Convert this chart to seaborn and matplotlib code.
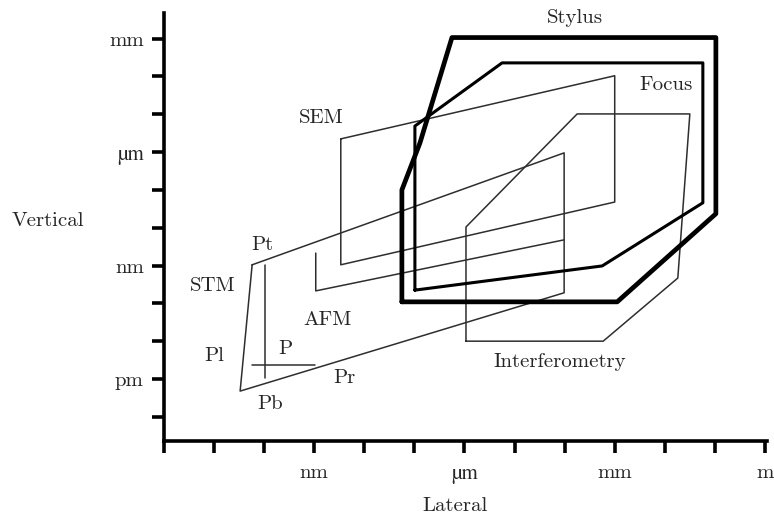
import numpy as np
import pandas as pd
import matplotlib
matplotlib.use("Agg")
import matplotlib.pyplot as plt
import seaborn as sns

# coordinates are log10(length / m)
stylus_x = [-7.25, -7.25, -6.89, -6.25, -0.98, -0.98, -2.95, -7.25]
stylus_y = [-9.96, -7.00, -5.76, -2.97, -2.97, -7.63, -9.96, -9.96]

focus_x = [-6.99, -3.25, -1.24, -1.24, -5.25, -6.99, -6.99]
focus_y = [-9.65, -9.01, -7.34, -3.64, -3.64, -5.31, -9.65]

interf_x = [-5.97, -3.23, -1.74, -1.50, -3.75, -5.97, -5.97]
interf_y = [-11.0, -11.0, -9.33, -4.99, -4.99, -7.98, -11.0]

sem_x = [-8.47, -8.47, -3.00, -3.00, -8.47]
sem_y = [-5.65, -8.98, -7.32, -3.98, -5.65]

afm_x = [-8.97, -8.97, -4.01]
afm_y = [-8.67, -9.67, -8.32]

stm_x = [-10.24, -10.48, -4.01, -4.01, -10.24]
stm_y = [-8.98, -12.32, -9.72, -6.02, -8.98]

p_vert_x = [-9.98, -9.98]
p_vert_y = [-8.98, -11.97]
p_horz_x = [-10.24, -8.98]
p_horz_y = [-11.63, -11.63]

x_ticks = list(range(-12, 1))
x_tick_labels = ["", "", "", "nm", "", "", "µm", "", "", "mm", "", "", "m"]
y_ticks = list(range(-13, -2))
y_tick_labels = ["", "pm", "", "", "nm", "", "", "µm", "", "", "mm"]

labels = ["Stylus", "Focus", "SEM", "Pt", "STM", "AFM", "Pl", "P", "Pr", "Pb", "Interferometry"]
label_x = [-3.79, -1.98, -8.87, -10.04, -11.02, -8.73, -11.0, -9.58, -8.39, -9.88, -4.09]
label_y = [-2.45, -4.22, -5.10, -8.45, -9.54, -10.44, -11.39, -11.21, -11.97, -12.66, -11.55]

sns.set_style("ticks")
plt.rcParams["font.family"] = ["cmr10", "DejaVu Serif"]
plt.rcParams["axes.unicode_minus"] = False

fig = plt.figure(figsize=(7.74, 5.19), dpi=100)
ax = fig.add_axes([0.2119, 0.1503, 0.779, 0.8247])

thin = "#2e2e2e"
shapes = [
    (stm_x, stm_y, 1.1, thin),
    (p_vert_x, p_vert_y, 1.1, thin),
    (p_horz_x, p_horz_y, 1.1, thin),
    (afm_x, afm_y, 1.1, thin),
    (sem_x, sem_y, 1.1, thin),
    (interf_x, interf_y, 1.1, thin),
    (focus_x, focus_y, 2.2, "black"),
    (stylus_x, stylus_y, 3.4, "black"),
]
for xs, ys, lw, col in shapes:
    df = pd.DataFrame({"x": xs, "y": ys})
    sns.lineplot(data=df, x="x", y="y", sort=False, estimator=None,
                 color=col, linewidth=lw, ax=ax)

for t, tx, ty in zip(labels, label_x, label_y):
    ax.text(tx, ty, t, fontsize=15, ha="center", va="center")

ax.set_xlim(-12, 0.04)
ax.set_ylim(-13.64, -2.32)
ax.set_xticks(x_ticks)
ax.set_xticklabels(x_tick_labels)
ax.set_yticks(y_ticks)
ax.set_yticklabels(y_tick_labels)
ax.tick_params(axis="both", direction="out", length=8.5, width=2.6,
               labelsize=15, color="black")
ax.tick_params(axis="x", pad=8)
ax.tick_params(axis="y", pad=6)

# cmr10 has no µ glyph, use a Times-like serif for those labels
for lab in ax.get_xticklabels() + ax.get_yticklabels():
    if "µ" in lab.get_text():
        lab.set_fontfamily("STIXGeneral")

sns.despine(ax=ax)
for s in ["left", "bottom"]:
    ax.spines[s].set_linewidth(2.6)
    ax.spines[s].set_color("black")

ax.set_xlabel("Lateral", fontsize=15, va="center")
ax.set_ylabel("Vertical", fontsize=15, rotation=0, ha="center", va="center")
ax.xaxis.set_label_coords(0.4826, -0.152)
ax.yaxis.set_label_coords(-0.192, 0.514)

fig.savefig("out.png", dpi=100)
